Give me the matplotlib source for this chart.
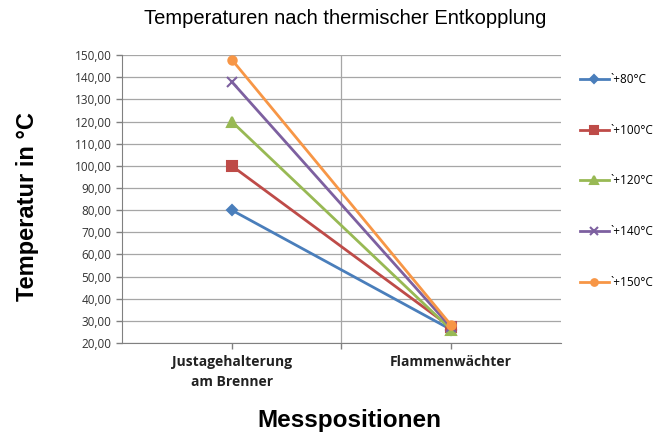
import matplotlib.pyplot as plt
import numpy as np

positions = ['Justagehalterung\nam Brenner', 'Flammenwächter']
series_labels = ['`+80°C', '`+100°C', '`+120°C', '`+140°C', '`+150°C']
t_80 = [80.0, 26.0]
t_100 = [100.0, 27.0]
t_120 = [120.0, 26.0]
t_140 = [138.0, 27.0]
t_150 = [148.0, 28.0]

colors = ['#4A7EBB', '#BE4B48', '#98B954', '#7D60A0', '#F79646']
markers = ['D', 's', '^', 'x', 'o']
msizes = [5, 7, 7, 7, 6]

fig = plt.figure(figsize=(6.65, 4.34), dpi=100)
ax = fig.add_axes([0.1835, 0.2097, 0.66, 0.6633])

x = np.arange(len(positions))
for i, vals in enumerate([t_80, t_100, t_120, t_140, t_150]):
    ax.plot(x, vals, color=colors[i], marker=markers[i], markersize=msizes[i],
            linewidth=2, label=series_labels[i], markeredgewidth=1.5)

ax.set_xlim(-0.5, 1.5)
ax.set_ylim(20, 150)
ax.set_yticks(np.arange(20, 151, 10))
ax.set_yticklabels([f'{v:.2f}'.replace('.', ',') for v in np.arange(20, 151, 10)],
                   fontsize=8.5, color='#333333', family='Open Sans')
ax.yaxis.grid(True, color='#A6A6A6', linewidth=0.9)
ax.set_axisbelow(True)
ax.axvline(0.5, color='#A6A6A6', linewidth=0.9, zorder=0)

ax.set_xticks([0, 0.5, 1])
ax.set_xticklabels([positions[0], '', positions[1]], fontsize=10, fontweight='bold',
                   family='Open Sans', color='#222222', linespacing=1.5)
ax.tick_params(axis='both', direction='out', length=4, color='#808080', width=1)
ax.tick_params(axis='x', pad=5)

for side in ['top', 'right']:
    ax.spines[side].set_visible(False)
for side in ['left', 'bottom']:
    ax.spines[side].set_color('#808080')

fig.text(0.526, 0.032, 'Messpositionen', ha='center', va='center',
         fontsize=17.5, fontweight='bold', family='Liberation Sans')
fig.text(0.041, 0.523, 'Temperatur in °C', ha='center', va='center', rotation=90,
         fontsize=17, fontweight='bold', family='Liberation Sans')
fig.text(0.519, 0.958, 'Temperaturen nach thermischer Entkopplung', ha='center', va='center',
         fontsize=14.5, family='Liberation Sans')

leg = ax.legend(loc='upper left', bbox_to_anchor=(1.02, 0.975), frameon=False,
                labelspacing=3.2, handlelength=2.4, handletextpad=0.2, markerscale=0.8,
                prop={'family': 'Open Sans', 'size': 8.5})

fig.savefig('out.png', dpi=100)
